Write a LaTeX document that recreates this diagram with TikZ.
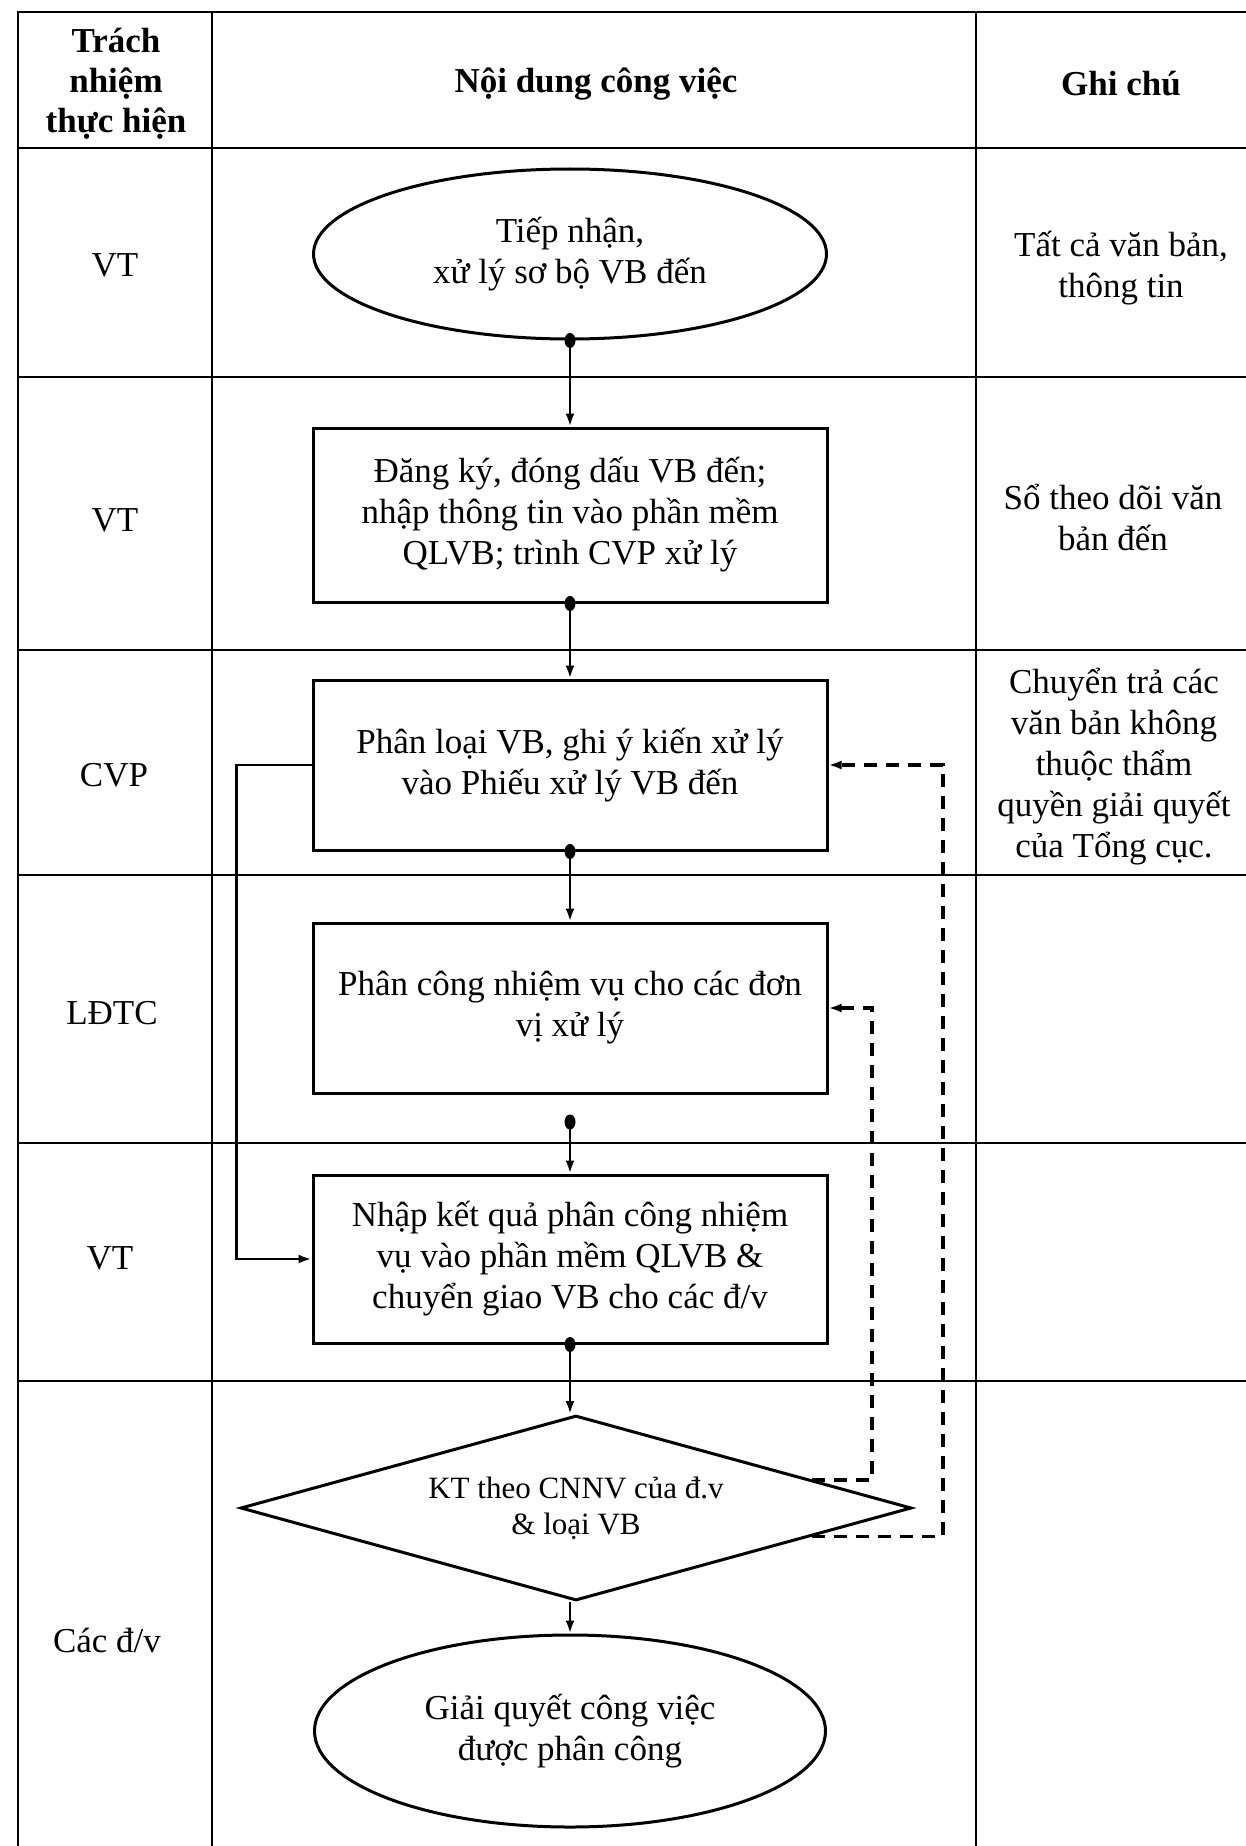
\documentclass[tikz,border=0pt]{standalone}
\usepackage{fontspec}
\setmainfont{Liberation Serif}
\usetikzlibrary{arrows.meta,shapes.geometric,positioning,calc}

\begin{document}
\begin{tikzpicture}[x=1pt, y=-1pt, >={Latex[length=13pt,width=9pt]},
  font=\fontsize{35}{41}\selectfont,
  grid/.style={line width=1.6pt},
  box/.style={draw, line width=3pt, align=center, minimum width=514pt, inner sep=0pt},
  oval/.style={draw, ellipse, line width=3pt, align=center, inner sep=0pt},
  flow/.style={->, line width=2.6pt},
  back/.style={->, line width=3.4pt, dash pattern=on 13pt off 9pt},
  who/.style={align=center},
  head/.style={align=center, font=\fontsize{35}{40}\selectfont\bfseries}]
\useasboundingbox (0,0) rectangle (1246,1846);

% table
\draw[grid] (1246,12) -- (18,12) -- (18,1846);
\foreach \y in {148,377,650,875,1143,1381}
  \draw[grid] (18,\y) -- (1246,\y);
\foreach \x in {212,976}
  \draw[grid] (\x,12) -- (\x,1846);

% header
\node[head] (hwho) at (116,84) {Trách\\nhiệm\\thực hiện};
\node[head] (hjob) at (596,84) {Nội dung công việc};
\node[head] (hnote) at (1121,84) {Ghi chú};

% responsible
\node[who] (w1) at (115,265) {VT};
\node[who] (w2) at (115,520) {VT};
\node[who] (w3) at (114,775) {CVP};
\node[who] (w4) at (112,1013) {LĐTC};
\node[who] (w5) at (110,1258) {VT};
\node[who] (w6) at (107,1640) {Các đ/v};

% notes
\node[who] (n1) at (1121,268) {Tất cả văn bản,\\thông tin};
\node[who] (n2) at (1113,517) {Sổ theo dõi văn\\bản đến};
\node[who] (n3) at (1114,767) {Chuyển trả các\\văn bản không\\thuộc thẩm\\quyền giải quyết\\của Tổng cục.};

% flow
\node[oval, minimum width=513pt, minimum height=170pt] (recv) at (570,254)
      {Tiếp nhận,\\xử lý sơ bộ VB đến};
\node[box, minimum height=174pt] (reg) at (570,515)
      {Đăng ký, đóng dấu VB đến;\\nhập thông tin vào phần mềm\\QLVB; trình CVP xử lý};
\node[box, minimum height=170pt] (sort) at (570,765)
      {Phân loại VB, ghi ý kiến xử lý\\vào Phiếu xử lý VB đến};
\node[box, minimum height=170pt] (assign) at (570,1008)
      {Phân công nhiệm vụ cho các đơn\\vị xử lý};
\node[box, minimum height=168pt] (enter) at (570,1259)
      {Nhập kết quả phân công nhiệm\\vụ vào phần mềm QLVB \&\\chuyển giao VB cho các đ/v};
\node[diamond, draw, line width=3pt, aspect=3.6, minimum width=671pt, minimum height=185pt,
      inner sep=0pt, align=center, font=\fontsize{31}{36}\selectfont] (check) at (576,1508)
      {KT theo CNNV của đ.v\\\& loại VB};
\node[oval, minimum width=511pt, minimum height=192pt] (solve) at (570,1731)
      {Giải quyết công việc\\được phân công};

\coordinate (split) at (570,1122);
\foreach \n in {recv.south,reg.south,sort.south,split,enter.south}
  \fill (\n) ellipse (5.5pt and 7.5pt);
\draw[flow] (recv.south) -- (reg.north);
\draw[flow] (reg.south) -- (sort.north);
\draw[flow] (sort.south) -- (assign.north);
\draw[flow] (split) -- (enter.north);
\draw[flow] (enter.south) -- (check.north -| enter.south);
\draw[flow] (check.south -| solve.north) -- (solve.north);
\draw[flow] (sort.west) -- ++(-75,0) |- (enter.west);

% returns
\draw[back] ($(check.east)!0.3!(check.south)$) -- ++(131,0) |- (sort.east);
\draw[back] ($(check.east)!0.3!(check.north)$) -- ++(60,0) |- (assign.east);
\end{tikzpicture}
\end{document}
